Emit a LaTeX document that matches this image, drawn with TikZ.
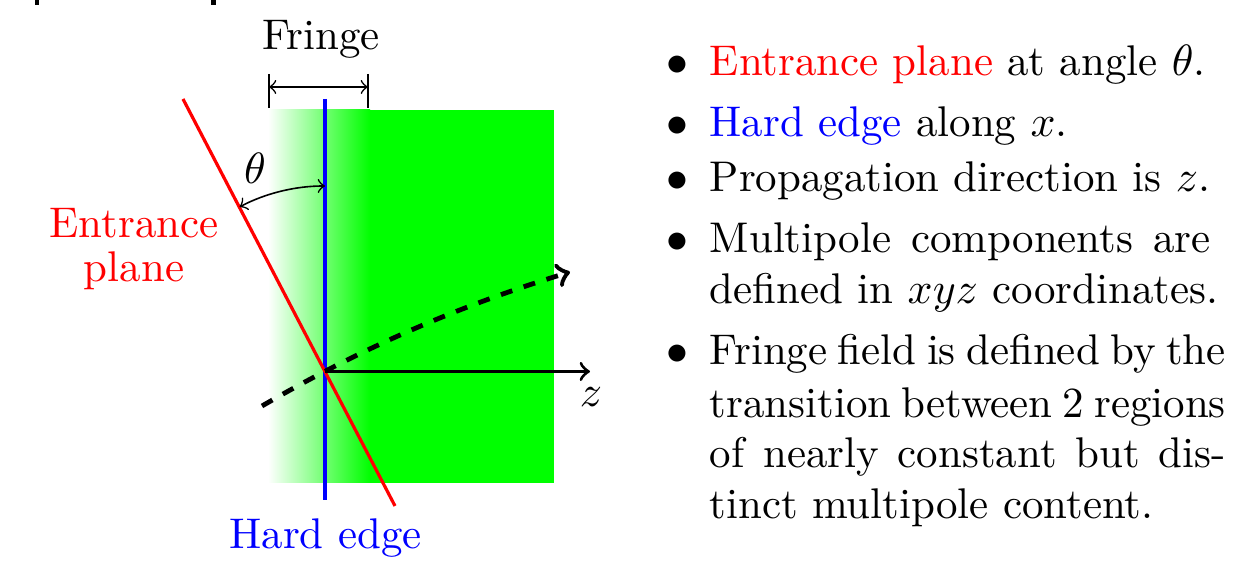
\documentclass[tikz,border=0pt]{standalone}
\begin{document}
\begin{tikzpicture}[x=0.25pt,y=-0.25pt,
  font=\fontsize{10.73}{12.9}\selectfont,
  lbl/.style={inner sep=0pt},
  bline/.style={anchor=base west,inner sep=0pt},
  bdot/.style={anchor=base,inner sep=0pt},
  thin line/.style={line width=0.4pt}]
\useasboundingbox (0,0) rectangle (1246,563);
% cropped marks at the top
\fill (35,0) rectangle (39,5);
\fill (211,0) rectangle (216,5);
% field region
\shade[left color=white,right color=green] (268,110) rectangle (370,483);
\fill[green] (369.5,110) rectangle (554,483);
% coordinates
\coordinate (HEt) at (325,99);
\coordinate (HEb) at (325,500);
\coordinate (EPt) at (183,99);
\coordinate (EPb) at (395,506);
\coordinate (O) at (325,371.5);
\coordinate (zEnd) at (590,371.5);
\coordinate (dStart) at (262,406);
\coordinate (dEnd) at (570,272);
\coordinate (tA) at (239.6,206.9);
\coordinate (tB) at (325,186);
\coordinate (fL) at (269,87);
\coordinate (fR) at (368,87);
\coordinate (fLt) at (269,74);
\coordinate (fLb) at (269,108);
\coordinate (fRt) at (368,74);
\coordinate (fRb) at (368,108);
% lines
\draw[blue,line width=1.2pt] (HEt) -- (HEb);
\draw[red,line width=0.8pt] (EPt) -- (EPb);
\draw[thick,->] (O) -- (zEnd);
\draw[very thick,dashed,->] (dStart) .. controls (363,347.5) and (457.5,306.4) .. (dEnd);
\draw[thin line,<->] (tA) .. controls (265.9,193.2) and (295.3,186) .. (tB);
% fringe bracket
\draw[thin line] (fLt) -- (fLb);
\draw[thin line] (fRt) -- (fRb);
\draw[thin line,<->] (fL) -- (fR);
% labels
\node[lbl,anchor=base] (fringe) at (321,50) {Fringe};
\node[lbl] (theta) at (255,168) {$\theta$};
\node[lbl] (zlab) at (591,397) {$z$};
\node[lbl,anchor=base,red] (ep1) at (134,238) {Entrance};
\node[lbl,anchor=base,red] (ep2) at (134,282) {plane};
\node[lbl,anchor=base,blue] (he) at (325.5,549) {Hard edge};
% bullet list
\node[bdot] (b1) at (677,76) {$\bullet$};
\node[bdot] (b2) at (677,137) {$\bullet$};
\node[bdot] (b3) at (677,192) {$\bullet$};
\node[bdot] (b4) at (677,253) {$\bullet$};
\node[bdot] (b5) at (677,365) {$\bullet$};
\node[bline] (l1) at (709,76) {\textcolor{red}{Entrance plane} at angle $\theta$.};
\node[bline] (l2) at (709,137) {\textcolor{blue}{Hard edge} along $x$.};
\node[bline] (l3) at (709,192) {Propagation direction is $z$.};
\node[bline] (l4) at (709,253) {\makebox[125.25pt][s]{Multipole components are}};
\node[bline] (l5) at (709,304) {defined in $xyz$ coordinates.};
\node[bline] (l6) at (709,365) {\makebox[129pt][s]{Fringe field is defined by the}};
\node[bline] (l7) at (709,418) {\makebox[129pt][s]{transition between 2 regions}};
\node[bline] (l8) at (709,468) {\makebox[129pt][s]{of nearly constant but dis-}};
\node[bline] (l9) at (709,519) {tinct multipole content.};
\end{tikzpicture}
\end{document}
